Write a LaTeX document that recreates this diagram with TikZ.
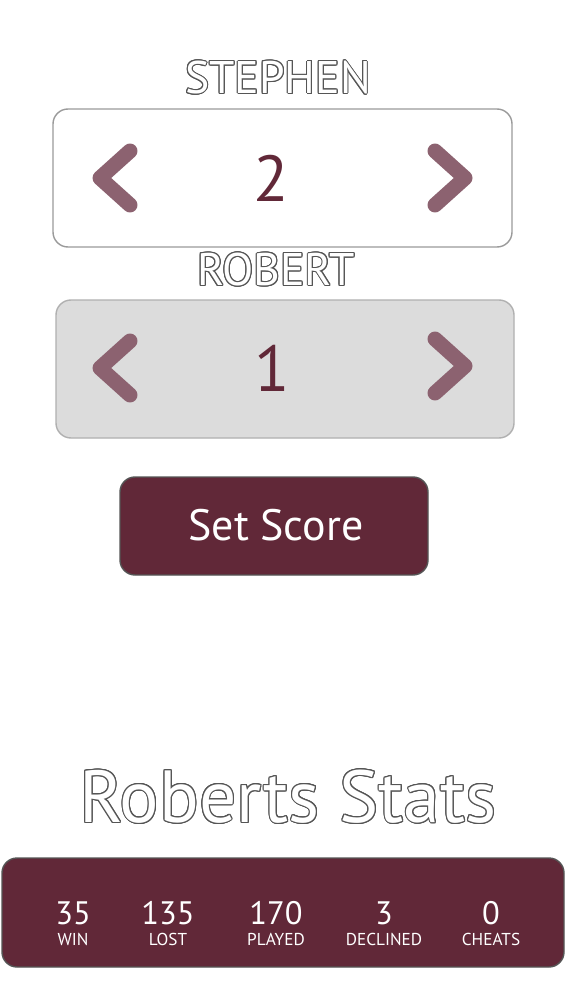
\documentclass[tikz,border=0pt]{standalone}
\usepackage{fontspec}
\setmainfont{PT Sans}
\usepackage{contour}
\newlength{\cornerradius}
\newlength{\chevronwidth}
\setlength{\cornerradius}{0.3cm}
\setlength{\chevronwidth}{0.3cm}
\contourlength{0.55pt}
\definecolor{background}{RGB}{255, 255, 255}
\definecolor{maroon}{HTML}{612838}
\definecolor{chevron}{HTML}{8C6270}
\definecolor{panelgrey}{HTML}{DCDCDC}
\definecolor{edgegrey}{HTML}{9A9A9A}
\definecolor{outlinegrey}{HTML}{555555}

\begin{document}
\begin{tikzpicture}[x=0.02cm,y=-0.02cm,
    panel/.style={rounded corners=\cornerradius,line width=0.8pt},
    arrowmark/.style={draw=chevron,line width=\chevronwidth,line cap=round,line join=round},
    playername/.style={font=\fontsize{26}{26}\selectfont},
    scorevalue/.style={text=maroon,font=\fontsize{37}{37}\selectfont},
    statvalue/.style={text=white,font=\fontsize{18.5}{18.5}\selectfont},
    statlabel/.style={text=white,font=\fontsize{9.8}{9.8}\selectfont}]
				% Boundary box
				\fill[background] (0,0) rectangle (570,1000);
				\useasboundingbox (0,0) rectangle (570,1000);

				% Score panels
				% Upper panel (first player)
				\draw[panel,fill=white,draw=edgegrey] (53,109) rectangle (512,247);
				\node[playername] (stephen) at (278,78) {\contour{outlinegrey}{\textcolor{white}{STEPHEN}}};
				\node[scorevalue] (stephenscore) at (271,178) {2};
				\draw[arrowmark] (130,151) -- (100,178) -- (130,205);
				\draw[arrowmark] (435,151) -- (465,178) -- (435,205);

				% Lower panel (second player)
				\draw[panel,fill=panelgrey,draw=panelgrey!80!black] (56,300) rectangle (514,438);
				\node[playername] (robert) at (276,270) {\contour{outlinegrey}{\textcolor{white}{ROBERT}}};
				\node[scorevalue] (robertscore) at (272,368) {1};
				\draw[arrowmark] (130,341) -- (100,368) -- (130,395);
				\draw[arrowmark] (435,339) -- (465,366) -- (435,393);

				% Button
				\draw[panel,fill=maroon,draw=outlinegrey] (120,477) rectangle (428,575);
				\node[text=white,font=\fontsize{25}{25}\selectfont] (setscore) at (276,525) {Set Score};

				% Stats
				% Header
				\node[font=\fontsize{42}{42}\selectfont] (statstitle) at (288,797) {\contour{outlinegrey}{\textcolor{white}{Roberts Stats}}};

				% Stats bar
				\draw[panel,fill=maroon,draw=outlinegrey] (2,858) rectangle (564,967);
				\foreach \x/\val/\lbl/\nm in {73/35/WIN/win,168/135/LOST/lost,276/170/PLAYED/played,384/3/DECLINED/declined,491/0/CHEATS/cheats}{
					\node[statvalue] (\nm value) at (\x,913) {\val};
					\node[statlabel] (\nm label) at (\x,939) {\lbl};
				}
			\end{tikzpicture}
\end{document}
